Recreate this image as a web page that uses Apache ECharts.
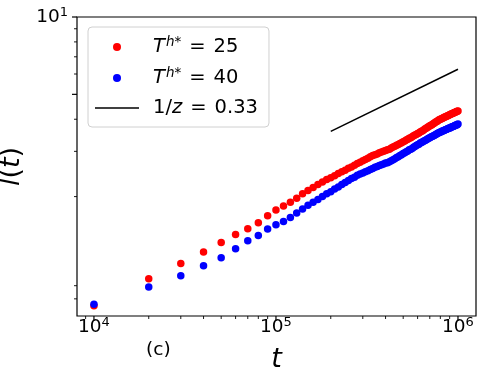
<!DOCTYPE html>
<html>
<head>
<meta charset="utf-8">
<script src="https://cdn.jsdelivr.net/npm/echarts@6/dist/echarts.min.js"></script>
<style>html,body{margin:0;padding:0;background:#fff;}#c{width:489px;height:378px;}</style>
</head>
<body>
<div id="c"></div>
<script>
// ---- data ----
const tValues = [10000,20000,30000,40000,50000,60000,70000,80000,90000,100000,
110000,120000,130000,140000,150000,160000,170000,180000,190000,200000,
210000,220000,230000,240000,250000,260000,270000,280000,290000,300000,
310000,320000,330000,340000,350000,360000,370000,380000,390000,400000,
410000,420000,430000,440000,450000,460000,470000,480000,490000,500000,
510000,520000,530000,540000,550000,560000,570000,580000,590000,600000,
610000,620000,630000,640000,650000,660000,670000,680000,690000,700000,
710000,720000,730000,740000,750000,760000,770000,780000,790000,800000,
810000,820000,830000,840000,850000,860000,870000,880000,890000,900000,
910000,920000,930000,940000,950000,960000,970000,980000,990000,1000000];
const lRed25 = [0.752,0.958,1.097,1.216,1.325,1.424,1.499,1.582,1.685,1.774,
1.840,1.902,1.969,2.05,2.11,2.17,2.23,2.28,2.33,2.37,
2.41,2.46,2.50,2.53,2.58,2.61,2.65,2.69,2.72,2.76,
2.79,2.82,2.86,2.89,2.91,2.93,2.96,2.98,3.00,3.02,
3.04,3.06,3.09,3.12,3.14,3.17,3.19,3.22,3.24,3.27,
3.29,3.32,3.34,3.37,3.39,3.42,3.45,3.47,3.49,3.52,
3.54,3.57,3.59,3.61,3.64,3.67,3.69,3.72,3.74,3.77,
3.79,3.81,3.84,3.86,3.89,3.91,3.93,3.96,3.98,4.00,
4.02,4.03,4.05,4.07,4.08,4.10,4.12,4.13,4.15,4.16,
4.18,4.19,4.21,4.22,4.24,4.25,4.27,4.28,4.30,4.31];
const lBlue40 = [0.762,0.890,0.985,1.077,1.155,1.252,1.346,1.411,1.495,1.554,
1.601,1.660,1.726,1.79,1.85,1.90,1.95,2.00,2.05,2.09,
2.14,2.18,2.23,2.27,2.31,2.35,2.38,2.42,2.45,2.47,
2.50,2.52,2.55,2.57,2.60,2.62,2.64,2.66,2.68,2.70,
2.71,2.73,2.76,2.78,2.81,2.84,2.86,2.89,2.91,2.94,
2.96,2.99,3.01,3.04,3.06,3.08,3.11,3.13,3.16,3.18,
3.20,3.23,3.25,3.27,3.29,3.31,3.33,3.35,3.37,3.39,
3.41,3.43,3.44,3.46,3.48,3.50,3.52,3.54,3.55,3.57,
3.58,3.60,3.61,3.62,3.64,3.65,3.66,3.68,3.69,3.70,
3.71,3.73,3.74,3.75,3.76,3.78,3.79,3.80,3.81,3.83];
const refLineT = [200000, 1000000];
const refLineL = [3.59, 6.26];
const xMajorTicks = [10000, 100000, 1000000];
const xMinorTicks = [9000,20000,30000,40000,50000,60000,70000,80000,90000,
  200000,300000,400000,500000,600000,700000,800000,900000];
const yMajorTicks = [10];
const yMidTicks = [5];
const yMinorTicks = [0.8,0.9,2,3,4,6,7,8,9];
const X_MIN = 8070, X_MAX = 1256000, Y_MIN = 0.686, Y_MAX = 10;

// ---- chart ----
const FONT = 'DejaVu Sans';
const chart = echarts.init(document.getElementById('c'), null, {renderer: 'canvas'});
function zip(a, b) { return a.map((v, i) => [v, b[i]]); }
function supLabel(v) {
  const e = Math.round(Math.log10(v));
  if (Math.abs(v - Math.pow(10, e)) / Math.pow(10, e) > 1e-6) return '';
  return '{b|10}{s|' + e + '}';
}
const labelRich = {
  b: {fontFamily: FONT, fontSize: 18.5, color: '#000'},
  s: {fontFamily: FONT, fontSize: 13, color: '#000', padding: [0, 0, 9, 0]}
};
function tickSeries(vals, axis, len, width) {
  const data = vals.map(v => axis === 'x' ? [v, Y_MIN] : [X_MIN, v]);
  return {
    type: 'custom', silent: true, clip: false, z: 10,
    data: data,
    renderItem: function (params, api) {
      const p = api.coord([api.value(0), api.value(1)]);
      const shape = axis === 'x'
        ? {x1: p[0], y1: p[1], x2: p[0], y2: p[1] + len}
        : {x1: p[0], y1: p[1], x2: p[0] - len, y2: p[1]};
      return {type: 'line', shape: shape, style: {stroke: '#000', lineWidth: width}};
    }
  };
}
const legendNames = {
  'T25': '{it|T}{sup|h}{sups|*}{eq|=}{n|25}',
  'T40': '{it|T}{sup|h}{sups|*}{eq|=}{n|40}',
  'ref': '{n|1/}{it|z}{eq|=}{n|0.33}'
};
chart.setOption({
  animation: false,
  backgroundColor: '#fff',
  title: {
    text: '(c)', left: 141, top: 336,
    textStyle: {fontFamily: FONT, fontSize: 18.5, fontWeight: 'normal', color: '#000'}
  },
  grid: {left: 77, right: 13, top: 17, bottom: 62, show: true, borderColor: '#000', borderWidth: 1.2,
         backgroundColor: 'transparent', containLabel: false, outerBoundsMode: 'none'},
  legend: {
    data: [{name: 'T25', icon: 'circle'}, {name: 'T40', icon: 'circle'},
           {name: 'ref', icon: 'path://M0,0L44,0L44,1.6L0,1.6Z'}],
    orient: 'vertical', left: 88, top: 27,
    itemWidth: 44, itemHeight: 8, itemGap: 8,
    padding: [8, 11, 8, 7],
    borderColor: '#d0d0d0', borderWidth: 1, borderRadius: 4,
    backgroundColor: 'rgba(255,255,255,0.8)',
    formatter: name => legendNames[name],
    textStyle: {
      padding: [0, 0, 0, 9],
      lineHeight: 22,
      rich: {
        it: {fontFamily: FONT, fontSize: 19.5, fontStyle: 'italic', color: '#000', lineHeight: 22},
        sup: {fontFamily: FONT, fontSize: 13.5, fontStyle: 'italic', color: '#000', padding: [0, 0, 10, 1]},
        sups: {fontFamily: FONT, fontSize: 13.5, color: '#000', padding: [0, 0, 10, 0]},
        eq: {fontFamily: FONT, fontSize: 19.5, color: '#000', lineHeight: 22, padding: [0, 8, 0, 8]},
        n: {fontFamily: FONT, fontSize: 19.5, color: '#000', lineHeight: 22}
      }
    }
  },
  xAxis: {
    type: 'log', min: X_MIN, max: X_MAX, logBase: 10,
    name: 't', nameLocation: 'middle', nameGap: 30,
    nameTextStyle: {fontFamily: FONT, fontSize: 27, fontStyle: 'italic', color: '#000'},
    axisLine: {show: false}, axisTick: {show: false}, splitLine: {show: false}, minorTick: {show: false},
    axisLabel: {margin: 0, formatter: supLabel, rich: labelRich, showMinLabel: false, showMaxLabel: false}
  },
  yAxis: {
    type: 'log', min: Y_MIN, max: Y_MAX, logBase: 10,
    name: '{it|l}{n|(}{it|t}{n|)}', nameLocation: 'middle', nameGap: 48,
    nameTextStyle: {
      rich: {
        it: {fontFamily: FONT, fontSize: 27, fontStyle: 'italic', color: '#000'},
        n: {fontFamily: FONT, fontSize: 27, color: '#000'}
      }
    },
    axisLine: {show: false}, axisTick: {show: false}, splitLine: {show: false}, minorTick: {show: false},
    axisLabel: {margin: 9, formatter: v => (Math.abs(v - 10) < 1e-6 ? supLabel(v) : ''), rich: labelRich, showMinLabel: false}
  },
  series: [
    {name: 'T25', type: 'scatter', data: zip(tValues, lRed25), symbol: 'circle', symbolSize: 7.5,
     itemStyle: {color: '#ff0000', opacity: 1}, z: 3},
    {name: 'T40', type: 'scatter', data: zip(tValues, lBlue40), symbol: 'circle', symbolSize: 7.5,
     itemStyle: {color: '#0000ff', opacity: 1}, z: 4},
    {name: 'ref', type: 'line', data: zip(refLineT, refLineL), symbol: 'none', showSymbol: false,
     lineStyle: {color: '#000', width: 1.5}, itemStyle: {color: '#000'}, z: 5},
    tickSeries(xMajorTicks, 'x', 5, 1.2),
    tickSeries(xMinorTicks, 'x', 3, 0.9),
    tickSeries(yMajorTicks, 'y', 5, 1.2),
    tickSeries(yMidTicks, 'y', 5, 1.2),
    tickSeries(yMinorTicks, 'y', 3, 0.9)
  ]
});
</script>
</body>
</html>
